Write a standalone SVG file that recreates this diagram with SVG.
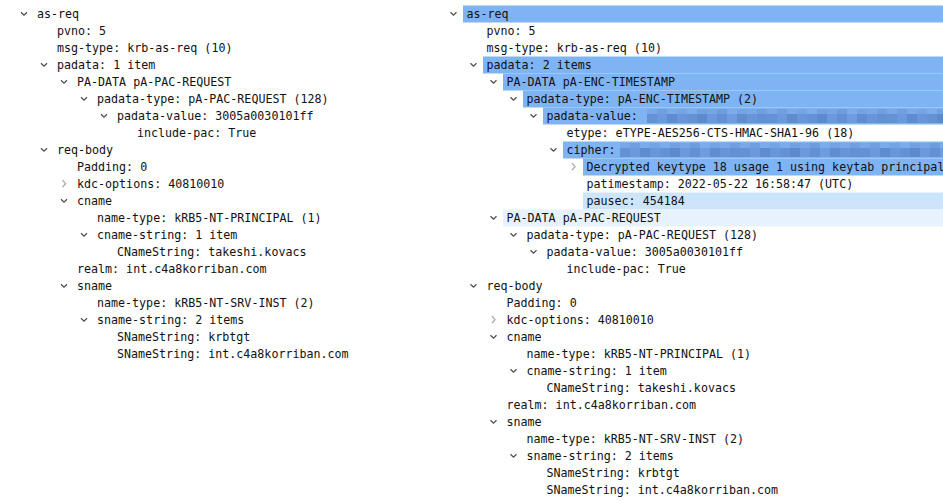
<svg xmlns="http://www.w3.org/2000/svg" width="943" height="501" viewBox="0 0 943 501">
<style>
text{font-family:"DejaVu Sans Mono","Liberation Mono",monospace;font-size:11.67px;fill:#111;}
.exp{fill:none;stroke:#505050;stroke-width:1.3;}
.col{fill:none;stroke:#a8a8a8;stroke-width:1.3;}
.sel{fill:#7fb4f4;}
.lite{fill:#cde5fc;}
.vlite{fill:#e6f2fe;}
</style>
<defs>
<pattern id="mosaic" patternUnits="userSpaceOnUse" x="0" y="0" width="120" height="14">
<rect x="0" y="0" width="10" height="5" fill="#78a8e8"/><rect x="10" y="0" width="10" height="5" fill="#6f9fdf"/><rect x="20" y="0" width="10" height="5" fill="#79aaea"/><rect x="30" y="0" width="10" height="5" fill="#74a4e4"/><rect x="40" y="0" width="10" height="5" fill="#7bacec"/><rect x="50" y="0" width="10" height="5" fill="#71a1e1"/><rect x="60" y="0" width="10" height="5" fill="#76a6e6"/><rect x="70" y="0" width="10" height="5" fill="#6d9ddd"/><rect x="80" y="0" width="10" height="5" fill="#7aabeb"/><rect x="90" y="0" width="10" height="5" fill="#73a3e3"/><rect x="100" y="0" width="10" height="5" fill="#78a8e8"/><rect x="110" y="0" width="10" height="5" fill="#6f9fe0"/>
<rect x="0" y="5" width="10" height="9" fill="#6391d2"/><rect x="10" y="5" width="10" height="9" fill="#6b99d9"/><rect x="20" y="5" width="10" height="9" fill="#5f8cce"/><rect x="30" y="5" width="10" height="9" fill="#6896d6"/><rect x="40" y="5" width="10" height="9" fill="#6592d3"/><rect x="50" y="5" width="10" height="9" fill="#5d8acb"/><rect x="60" y="5" width="10" height="9" fill="#6a98d8"/><rect x="70" y="5" width="10" height="9" fill="#6390d1"/><rect x="80" y="5" width="10" height="9" fill="#6e9cdc"/><rect x="90" y="5" width="10" height="9" fill="#5f8dce"/><rect x="100" y="5" width="10" height="9" fill="#6795d5"/><rect x="110" y="5" width="10" height="9" fill="#6290d1"/>
</pattern>
</defs>
<rect width="943" height="501" fill="#ffffff"/>

<g id="left-tree">
<g id="L0"><path class="exp" d="M21 12.2L24 15.2L27 12.2"/><text x="37" y="18">as-req</text></g>
<g id="L1"><text x="57" y="35">pvno: 5</text></g>
<g id="L2"><text x="57" y="52">msg-type: krb-as-req (10)</text></g>
<g id="L3"><path class="exp" d="M41 63.2L44 66.2L47 63.2"/><text x="57" y="69">padata: 1 item</text></g>
<g id="L4"><path class="exp" d="M61 80.2L64 83.2L67 80.2"/><text x="77" y="86">PA-DATA pA-PAC-REQUEST</text></g>
<g id="L5"><path class="exp" d="M81 97.2L84 100.2L87 97.2"/><text x="97" y="103">padata-type: pA-PAC-REQUEST (128)</text></g>
<g id="L6"><path class="exp" d="M101 114.2L104 117.2L107 114.2"/><text x="117" y="120">padata-value: 3005a0030101ff</text></g>
<g id="L7"><text x="137" y="137">include-pac: True</text></g>
<g id="L8"><path class="exp" d="M41 148.2L44 151.2L47 148.2"/><text x="57" y="154">req-body</text></g>
<g id="L9"><text x="77" y="171">Padding: 0</text></g>
<g id="L10"><path class="col" d="M62.5 180.2L65.5 183.7L62.5 187.2"/><text x="77" y="188">kdc-options: 40810010</text></g>
<g id="L11"><path class="exp" d="M61 199.2L64 202.2L67 199.2"/><text x="77" y="205">cname</text></g>
<g id="L12"><text x="97" y="222">name-type: kRB5-NT-PRINCIPAL (1)</text></g>
<g id="L13"><path class="exp" d="M81 233.2L84 236.2L87 233.2"/><text x="97" y="239">cname-string: 1 item</text></g>
<g id="L14"><text x="117" y="256">CNameString: takeshi.kovacs</text></g>
<g id="L15"><text x="77" y="273">realm: int.c4a8korriban.com</text></g>
<g id="L16"><path class="exp" d="M61 284.2L64 287.2L67 284.2"/><text x="77" y="290">sname</text></g>
<g id="L17"><text x="97" y="307">name-type: kRB5-NT-SRV-INST (2)</text></g>
<g id="L18"><path class="exp" d="M81 318.2L84 321.2L87 318.2"/><text x="97" y="324">sname-string: 2 items</text></g>
<g id="L19"><text x="117" y="341">SNameString: krbtgt</text></g>
<g id="L20"><text x="117" y="358">SNameString: int.c4a8korriban.com</text></g>
</g>

<g id="right-tree">
<g id="R0"><rect class="sel" x="463" y="5.5" width="480" height="17"/><path class="exp" d="M450.5 12.2L453.5 15.2L456.5 12.2"/><text x="466.5" y="18">as-req</text></g>
<g id="R1"><text x="486.5" y="35">pvno: 5</text></g>
<g id="R2"><text x="486.5" y="52">msg-type: krb-as-req (10)</text></g>
<g id="R3"><rect class="sel" x="483" y="56.5" width="460" height="17"/><path class="exp" d="M470.5 63.2L473.5 66.2L476.5 63.2"/><text x="486.5" y="69">padata: 2 items</text></g>
<g id="R4"><rect class="sel" x="503" y="73.5" width="440" height="17"/><path class="exp" d="M490.5 80.2L493.5 83.2L496.5 80.2"/><text x="506.5" y="86">PA-DATA pA-ENC-TIMESTAMP</text></g>
<g id="R5"><rect class="sel" x="523" y="90.5" width="420" height="17"/><path class="exp" d="M510.5 97.2L513.5 100.2L516.5 97.2"/><text x="526.5" y="103">padata-type: pA-ENC-TIMESTAMP (2)</text></g>
<g id="R6"><rect class="sel" x="543" y="107.5" width="400" height="17"/><g transform="translate(647,109)"><rect x="0" y="0" width="296" height="14" fill="url(#mosaic)"/></g><path class="exp" d="M530.5 114.2L533.5 117.2L536.5 114.2"/><text x="546.5" y="120">padata-value:</text></g>
<g id="R7"><text x="566.5" y="137">etype: eTYPE-AES256-CTS-HMAC-SHA1-96 (18)</text></g>
<g id="R8"><rect class="sel" x="563" y="141.5" width="380" height="17"/><g transform="translate(620,143)"><rect x="0" y="0" width="323" height="14" fill="url(#mosaic)"/></g><path class="exp" d="M550.5 148.2L553.5 151.2L556.5 148.2"/><text x="566.5" y="154">cipher:</text></g>
<g id="R9"><rect class="sel" x="583" y="158.5" width="360" height="17"/><path class="col" d="M572 163.2L575 166.7L572 170.2"/><text x="586.5" y="171">Decrypted keytype 18 usage 1 using keytab principal</text></g>
<g id="R10"><text x="586.5" y="188">patimestamp: 2022-05-22 16:58:47 (UTC)</text></g>
<g id="R11"><rect class="lite" x="583" y="192.5" width="360" height="17"/><text x="586.5" y="205">pausec: 454184</text></g>
<g id="R12"><rect class="vlite" x="503" y="209.5" width="440" height="17"/><path class="exp" d="M490.5 216.2L493.5 219.2L496.5 216.2"/><text x="506.5" y="222">PA-DATA pA-PAC-REQUEST</text></g>
<g id="R13"><path class="exp" d="M510.5 233.2L513.5 236.2L516.5 233.2"/><text x="526.5" y="239">padata-type: pA-PAC-REQUEST (128)</text></g>
<g id="R14"><path class="exp" d="M530.5 250.2L533.5 253.2L536.5 250.2"/><text x="546.5" y="256">padata-value: 3005a0030101ff</text></g>
<g id="R15"><text x="566.5" y="273">include-pac: True</text></g>
<g id="R16"><path class="exp" d="M470.5 284.2L473.5 287.2L476.5 284.2"/><text x="486.5" y="290">req-body</text></g>
<g id="R17"><text x="506.5" y="307">Padding: 0</text></g>
<g id="R18"><path class="col" d="M492 316.2L495 319.7L492 323.2"/><text x="506.5" y="324">kdc-options: 40810010</text></g>
<g id="R19"><path class="exp" d="M490.5 335.2L493.5 338.2L496.5 335.2"/><text x="506.5" y="341">cname</text></g>
<g id="R20"><text x="526.5" y="358">name-type: kRB5-NT-PRINCIPAL (1)</text></g>
<g id="R21"><path class="exp" d="M510.5 369.2L513.5 372.2L516.5 369.2"/><text x="526.5" y="375">cname-string: 1 item</text></g>
<g id="R22"><text x="546.5" y="392">CNameString: takeshi.kovacs</text></g>
<g id="R23"><text x="506.5" y="409">realm: int.c4a8korriban.com</text></g>
<g id="R24"><path class="exp" d="M490.5 420.2L493.5 423.2L496.5 420.2"/><text x="506.5" y="426">sname</text></g>
<g id="R25"><text x="526.5" y="443">name-type: kRB5-NT-SRV-INST (2)</text></g>
<g id="R26"><path class="exp" d="M510.5 454.2L513.5 457.2L516.5 454.2"/><text x="526.5" y="460">sname-string: 2 items</text></g>
<g id="R27"><text x="546.5" y="477">SNameString: krbtgt</text></g>
<g id="R28"><text x="546.5" y="494">SNameString: int.c4a8korriban.com</text></g>
</g>
<g id="connectors"/>
</svg>
